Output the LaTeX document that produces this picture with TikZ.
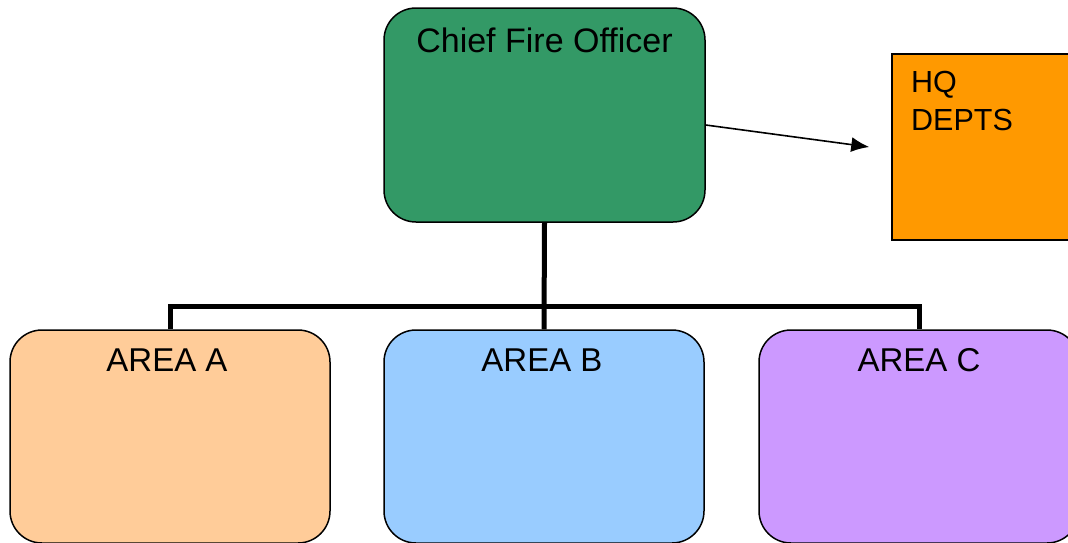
\documentclass[tikz,border=0pt]{standalone}
\usepackage{fontspec}
\setmainfont{Liberation Sans}
\usetikzlibrary{arrows.meta}

\definecolor{cfogreen}{HTML}{339966}
\definecolor{hqorange}{HTML}{FF9900}
\definecolor{areapeach}{HTML}{FFCC99}
\definecolor{areablue}{HTML}{99CCFF}
\definecolor{areapurple}{HTML}{CC99FF}

\tikzset{
  orgbox/.style={draw=black, line width=1.5pt, rounded corners=32pt,
    inner sep=0pt, minimum width=320pt},
  boxtext/.style={anchor=base, inner sep=0pt,
    font=\fontsize{33pt}{40pt}\selectfont},
  hqtext/.style={anchor=base west, inner sep=0pt, align=left,
    font=\fontsize{30.5pt}{37.5pt}\selectfont},
  treeline/.style={line width=5pt},
  linkarrow/.style={line width=1.6pt, -{Latex[length=18pt,width=15pt]}}
}

\begin{document}
\begin{tikzpicture}[x=1pt, y=-1pt]
  \useasboundingbox (0,0) rectangle (1068,542);
  \clip (0,0) rectangle (1068,542);

  % top of the hierarchy
  \node[orgbox, fill=cfogreen, minimum width=321pt, minimum height=214pt]
    (cfo) at (544.5,115) {};
  \node[boxtext, font=\fontsize{34pt}{40pt}\selectfont] (cfot)
    at ([yshift=-45pt]cfo.north) {Chief Fire Officer};

  % headquarters departments
  \node[draw=black, line width=1.5pt, fill=hqorange, inner sep=0pt,
    minimum width=200pt, minimum height=186pt] (hq) at (992,147) {};
  \node[hqtext] (hqt) at (911,130) {HQ\\DEPTS};

  % the three areas
  \node[orgbox, fill=areapeach, minimum height=213pt] (a) at (170,436.5) {};
  \node[orgbox, fill=areablue, minimum height=213pt] (b) at (544,436.5) {};
  \node[orgbox, fill=areapurple, minimum height=213pt] (c) at (919,436.5) {};
  \node[boxtext] (at) at ([xshift=-3pt, yshift=-42.7pt]a.north) {AREA A};
  \node[boxtext] (bt) at ([xshift=-2pt, yshift=-42.7pt]b.north) {AREA B};
  \node[boxtext] (ct) at ([yshift=-42.7pt]c.north) {AREA C};

  % reporting lines
  \coordinate (bus) at (544,306.5);
  \draw[treeline] (cfo.south) -- (b.north);
  \draw[treeline] (a.north) -- (a.north |- bus) -- (c.north |- bus) -- (c.north);

  % link to headquarters
  \coordinate (hqend) at ([xshift=-22pt]hq.west);
  \draw[linkarrow] ([yshift=-10pt]cfo.east) -- (hqend);
\end{tikzpicture}
\end{document}
